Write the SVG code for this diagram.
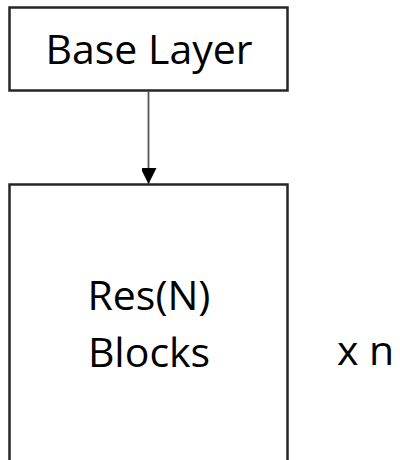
<svg xmlns="http://www.w3.org/2000/svg" width="400" height="460" viewBox="0 0 400 460">
  <style>
    .box { fill: #ffffff; stroke: #262626; stroke-width: 2.5; }
    .label { font-family: "Open Sans", "Noto Sans", "Liberation Sans", sans-serif; font-size: 41px; fill: #000000; }
    .link { stroke: #555555; stroke-width: 1.8; fill: none; }
  </style>
  <defs>
    <marker id="arrowhead" markerUnits="userSpaceOnUse" markerWidth="16" markerHeight="15" refX="16" refY="8" orient="auto">
      <path d="M0,0 L16,8 L0,16 Z" fill="#000000"/>
    </marker>
  </defs>
  <rect width="400" height="460" fill="#ffffff"/>

  <g id="base-layer">
    <rect class="box" x="9.5" y="7.5" width="278" height="83"/>
    <text class="label" x="149" y="64" text-anchor="middle">Base Layer</text>
  </g>

  <g id="res-blocks">
    <rect class="box" x="9.5" y="184.5" width="278" height="290"/>
    <text class="label" x="149" y="310" text-anchor="middle">Res(N)</text>
    <text class="label" x="149" y="367" text-anchor="middle">Blocks</text>
  </g>

  <g id="repeat-count">
    <text class="label" x="337" y="365">x n</text>
  </g>

  <g id="connectors">
    <line class="link" x1="148.5" y1="91" x2="148.5" y2="184" marker-end="url(#arrowhead)"/>
  </g>
</svg>
